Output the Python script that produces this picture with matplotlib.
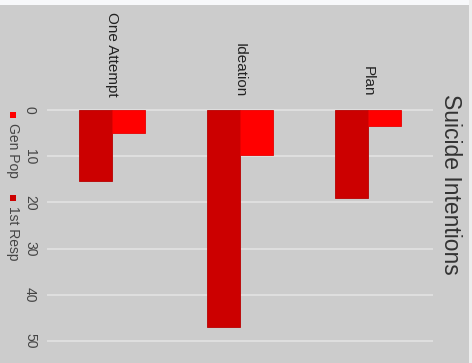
import matplotlib
matplotlib.use("Agg")
import matplotlib.pyplot as plt
import matplotlib.transforms as mtransforms
from matplotlib.patches import Rectangle
import numpy as np

plt.rcParams['font.family'] = ['Liberation Sans', 'DejaVu Sans']

categories = ["One Attempt", "Ideation", "Plan"]
series_names = ["Gen Pop", "1st Resp"]
gen_pop = [5.0, 9.7, 3.5]
first_resp = [15.3, 46.9, 19.1]
y_ticks = [0, 10, 20, 30, 40, 50]
axis_title = "Suicide Intentions"

W, H = 472, 363
fig = plt.figure(figsize=(W / 100, H / 100), dpi=100, facecolor="#cccccc")

def fx(px):
    return px / W

def fy(py):
    return (H - py) / H

# top white strip and right edge strip
fig.patches.append(Rectangle((0, fy(5)), 1, 5 / H, transform=fig.transFigure,
                             facecolor="#f7f8fa", edgecolor="none", zorder=0))
fig.patches.append(Rectangle((fx(469), 0), 3 / W, 1, transform=fig.transFigure,
                             facecolor="#eeeeee", edgecolor="none", zorder=0))

ax = fig.add_axes([fx(48), fy(341), fx(432) - fx(48), fy(110) - fy(341)])
ax.set_facecolor("#cccccc")
for s in ax.spines.values():
    s.set_visible(False)

x = np.arange(len(categories))
bw = 0.26
c_dark = "#cc0000"
c_bright = "#ff0000"
ax.bar(x - bw / 2, first_resp, width=bw, color=c_dark, edgecolor="#b80000",
       linewidth=0.6, zorder=3, clip_on=False)
ax.bar(x + bw / 2, gen_pop, width=bw, color=c_bright, edgecolor="#e80000",
       linewidth=0.6, zorder=3, clip_on=False)

ax.set_xlim(-0.5, 2.5)
ax.set_ylim(50, 0)
ax.set_yticks(y_ticks)
ax.set_yticklabels([str(t) for t in y_ticks], rotation=-90, fontsize=10,
                   color="#444444", va="center", ha="center")
ax.tick_params(axis="y", length=0, pad=13)
ax.set_xticks([])
for t in y_ticks:
    ax.axhline(t, color="#dedede", linewidth=1.5, zorder=1, clip_on=False)

# category labels at top
trans = mtransforms.blended_transform_factory(ax.transData, fig.transFigure)
for i, c in enumerate(categories):
    ax.text(x[i], fy(97), c, transform=trans, rotation=-90, ha="center",
            va="bottom", fontsize=11, color="#222222")

# axis title on right
fig.text(fx(450), fy(184), axis_title, rotation=-90, ha="center", va="center",
         fontsize=16.5, color="#333333")

# legend (rotated)
legend_colors = [c_bright, c_dark]
legend_marker_y = [115, 198]
for name, col, my in zip(series_names, legend_colors, legend_marker_y):
    fig.patches.append(Rectangle((fx(10), fy(my + 3)), 6 / W, 6 / H,
                                 transform=fig.transFigure, facecolor=col,
                                 edgecolor="none"))
    fig.text(fx(13), fy(my + 8), name, rotation=-90, ha="center", va="top",
             fontsize=10, color="#444444")

fig.savefig("out.png", dpi=100, facecolor=fig.get_facecolor())
